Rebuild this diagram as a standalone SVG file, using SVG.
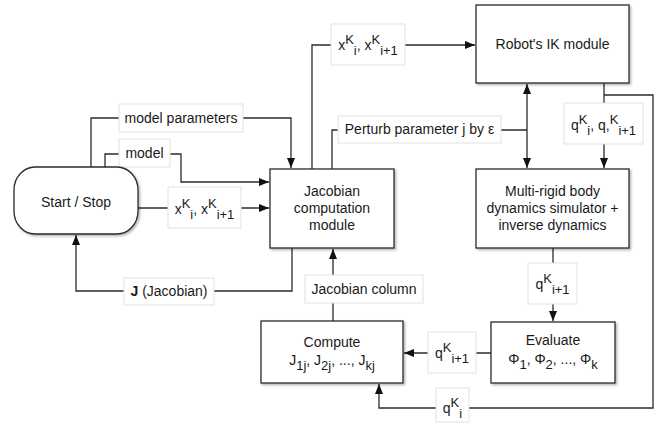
<svg xmlns="http://www.w3.org/2000/svg" width="667" height="423" viewBox="0 0 667 423">
  <style>
    text { font-family: "Liberation Sans", Arial, sans-serif; font-size: 14px; fill: #1a1a1a; }
    .node { fill: #ffffff; stroke: #2b2b2b; stroke-width: 1.3; filter: url(#shadow); }
    .wire { fill: none; stroke: #2b2b2b; stroke-width: 1.3; }
    .tag { fill: #ffffff; stroke: #e2e2e2; stroke-width: 1; }
    .s { font-size: 13px; }
  </style>
  <defs>
    <filter id="shadow" x="-10%" y="-10%" width="130%" height="140%">
      <feDropShadow dx="1.5" dy="1.5" stdDeviation="1" flood-color="#000" flood-opacity="0.3"/>
    </filter>
    <marker id="arrow" viewBox="0 0 10 8" refX="10" refY="4" markerWidth="10" markerHeight="8" markerUnits="userSpaceOnUse" orient="auto-start-reverse">
      <path d="M0,0 L10,4 L0,8 z" fill="#111"/>
    </marker>
  </defs>

  <!-- connectors -->
  <g id="connectors">
    <path class="wire" d="M91,167 V118 H291 V168" marker-end="url(#arrow)"/>
    <path class="wire" d="M105,167 V154 H181 V182 H269" marker-end="url(#arrow)"/>
    <path class="wire" d="M138,208 H269" marker-end="url(#arrow)"/>
    <path class="wire" d="M292,248 V291 H76 V235" marker-end="url(#arrow)"/>
    <path class="wire" d="M333,321 V249" marker-end="url(#arrow)"/>
    <path class="wire" d="M312,169 V45 H475" marker-end="url(#arrow)"/>
    <path class="wire" d="M332,169 V130 H527"/>
    <path class="wire" d="M527,84 V168" marker-start="url(#arrow)" marker-end="url(#arrow)"/>
    <path class="wire" d="M604,83 V168" marker-end="url(#arrow)"/>
    <path class="wire" d="M604,95 H653 V408 H379 V384" marker-end="url(#arrow)"/>
    <path class="wire" d="M553,248 V321" marker-end="url(#arrow)"/>
    <path class="wire" d="M491,353 H404" marker-end="url(#arrow)"/>

    <!-- connector labels -->
    <g id="lbl-model-parameters">
      <rect class="tag" x="119" y="104" width="124" height="28"/>
      <text x="181" y="123" text-anchor="middle">model parameters</text>
    </g>
    <g id="lbl-model">
      <rect class="tag" x="119" y="139" width="51" height="28"/>
      <text x="144.5" y="158" text-anchor="middle">model</text>
    </g>
    <g id="lbl-x-start">
      <rect class="tag" x="168" y="187" width="73" height="41"/>
      <text x="204.5" y="214" text-anchor="middle">x<tspan class="s" dy="-6">K</tspan><tspan class="s" dy="11">i</tspan><tspan dy="-5">, x</tspan><tspan class="s" dy="-6">K</tspan><tspan class="s" dy="11">i+1</tspan></text>
    </g>
    <g id="lbl-jacobian">
      <rect class="tag" x="124" y="278" width="90" height="27"/>
      <text x="169" y="296" text-anchor="middle"><tspan font-weight="bold">J</tspan> (Jacobian)</text>
    </g>
    <g id="lbl-jacobian-column">
      <rect class="tag" x="305" y="275" width="118" height="28"/>
      <text x="364" y="294" text-anchor="middle">Jacobian column</text>
    </g>
    <g id="lbl-x-ik">
      <rect class="tag" x="331" y="24" width="74" height="41"/>
      <text x="368" y="50" text-anchor="middle">x<tspan class="s" dy="-6">K</tspan><tspan class="s" dy="11">i</tspan><tspan dy="-5">, x</tspan><tspan class="s" dy="-6">K</tspan><tspan class="s" dy="11">i+1</tspan></text>
    </g>
    <g id="lbl-perturb">
      <rect class="tag" x="338" y="116" width="163" height="27"/>
      <text x="419.5" y="134" text-anchor="middle">Perturb parameter j by ε</text>
    </g>
    <g id="lbl-q-ik">
      <rect class="tag" x="564" y="103" width="79" height="41"/>
      <text x="603.5" y="130" text-anchor="middle">q<tspan class="s" dy="-6">K</tspan><tspan class="s" dy="11">i</tspan><tspan dy="-5">, q,</tspan><tspan class="s" dy="-6">K</tspan><tspan class="s" dy="11">i+1</tspan></text>
    </g>
    <g id="lbl-q-sim">
      <rect class="tag" x="528" y="263" width="49" height="41"/>
      <text x="552.5" y="289" text-anchor="middle">q<tspan class="s" dy="-6">K</tspan><tspan class="s" dy="11">i+1</tspan></text>
    </g>
    <g id="lbl-q-eval">
      <rect class="tag" x="428" y="332" width="48" height="41"/>
      <text x="452" y="358" text-anchor="middle">q<tspan class="s" dy="-6">K</tspan><tspan class="s" dy="11">i+1</tspan></text>
    </g>
    <g id="lbl-q-loop">
      <rect class="tag" x="436" y="388" width="33" height="34"/>
      <text x="452.5" y="413" text-anchor="middle">q<tspan class="s" dy="-6">K</tspan><tspan class="s" dy="11">i</tspan></text>
    </g>
  </g>

  <!-- nodes -->
  <g id="start-stop">
    <rect class="node" x="14" y="167" width="124" height="67" rx="21" ry="23"/>
    <text x="76" y="207" text-anchor="middle">Start / Stop</text>
  </g>
  <g id="jacobian-module">
    <rect class="node" x="270" y="169" width="124" height="79"/>
    <text x="332" y="196" text-anchor="middle">Jacobian</text>
    <text x="332" y="213" text-anchor="middle">computation</text>
    <text x="332" y="230" text-anchor="middle">module</text>
  </g>
  <g id="ik-module">
    <rect class="node" x="476" y="5" width="153" height="78"/>
    <text x="552.5" y="49" text-anchor="middle">Robot's IK module</text>
  </g>
  <g id="simulator">
    <rect class="node" x="476" y="169" width="153" height="79"/>
    <text x="552.5" y="196" text-anchor="middle">Multi-rigid body</text>
    <text x="552.5" y="213" text-anchor="middle">dynamics simulator +</text>
    <text x="552.5" y="230" text-anchor="middle">inverse dynamics</text>
  </g>
  <g id="evaluate">
    <rect class="node" x="491" y="322" width="124" height="61"/>
    <text x="553" y="345" text-anchor="middle">Evaluate</text>
    <text x="553" y="364" text-anchor="middle">Φ<tspan class="s" dy="5">1</tspan><tspan dy="-5">,  Φ</tspan><tspan class="s" dy="5">2</tspan><tspan dy="-5">, ..., Φ</tspan><tspan class="s" dy="5">k</tspan></text>
  </g>
  <g id="compute">
    <rect class="node" x="261" y="321" width="142" height="62"/>
    <text x="332" y="347" text-anchor="middle">Compute</text>
    <text x="332" y="365" text-anchor="middle">J<tspan class="s" dy="5">1j</tspan><tspan dy="-5">, J</tspan><tspan class="s" dy="5">2j</tspan><tspan dy="-5">, ..., J</tspan><tspan class="s" dy="5">kj</tspan></text>
  </g>
</svg>
